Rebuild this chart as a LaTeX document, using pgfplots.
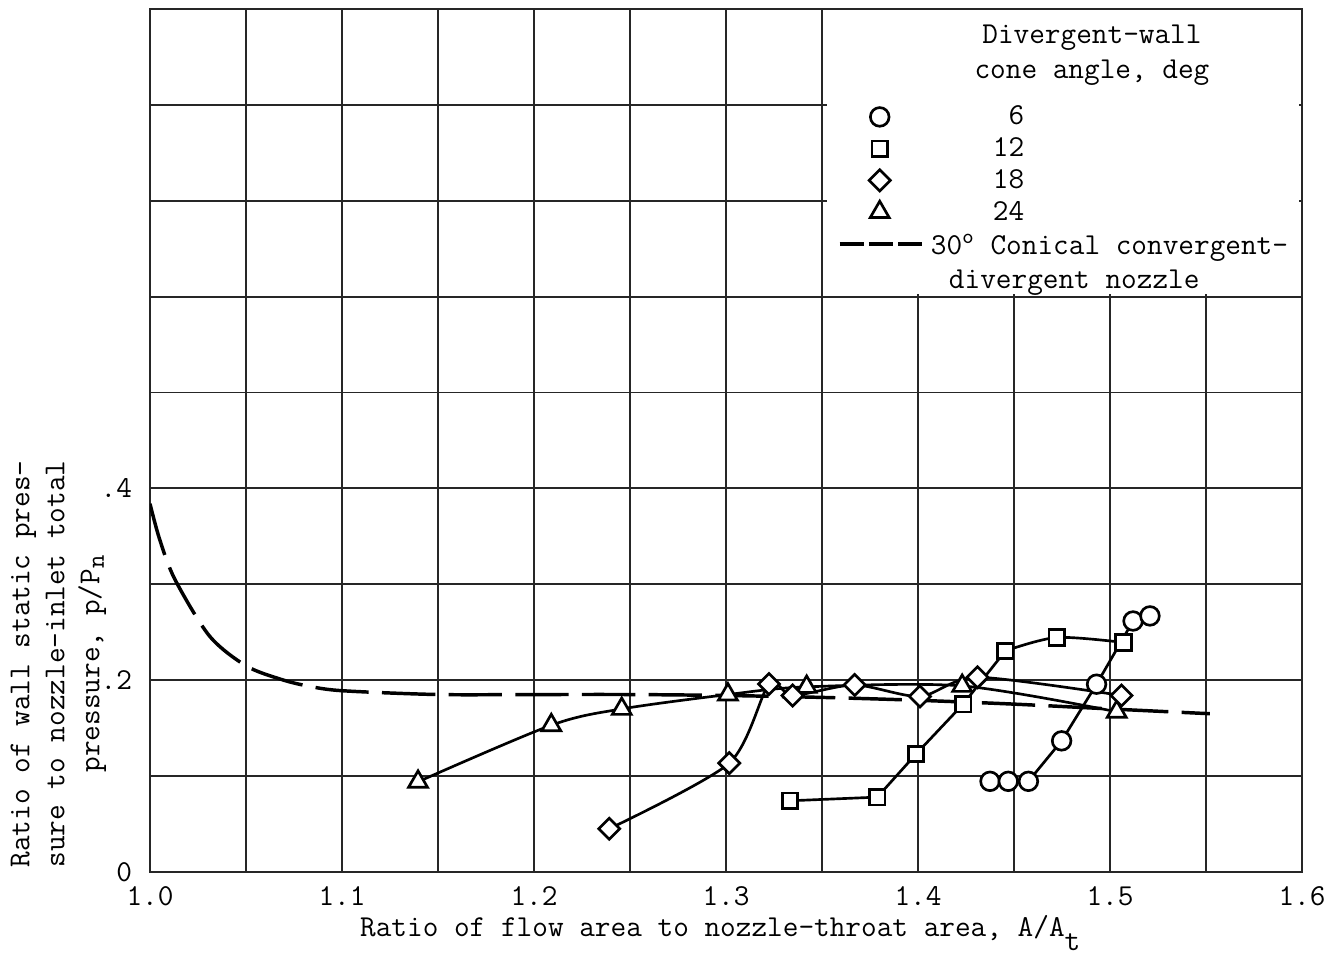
\documentclass[border=0pt]{standalone}
\usepackage{pgfplots}
\pgfplotsset{compat=1.18}
\newcommand\tf{\fontsize{11.4}{13.1}\selectfont\ttfamily}
\begin{document}
\begin{tikzpicture}[font=\tf]
\begin{axis}[
  scale only axis,
  width=432pt, height=323.6pt,
  xmin=1.0, xmax=1.6, ymin=0, ymax=0.9,
  xtick={1.0,1.1,1.2,1.3,1.4,1.5,1.6},
  xticklabels={1.0,1.1,1.2,1.3,1.4,1.5,1.6},
  minor xtick={1.05,1.15,1.25,1.35,1.45,1.55},
  ytick={0,0.2,0.4},
  yticklabels={0,.2,.4},
  minor ytick={0.1,0.3,0.5,0.6,0.7,0.8},
  grid=both,
  major grid style={line width=0.7pt, draw=black!85},
  minor grid style={line width=0.7pt, draw=black!85},
  tick style={draw=none},
  axis line style={line width=0.7pt, draw=black!85},
  tick label style={font=\tf},
  xticklabel style={yshift=-2pt},
  yticklabel style={xshift=-3.2pt},
  label style={font=\tf},
  xlabel={Ratio of flow area to nozzle-throat area, A/A\raisebox{-5pt}{t}},
  xlabel style={at={(rel axis cs:0.495,-0.0753)}, anchor=base},
  ylabel={Ratio of wall static pres-\\sure to nozzle-inlet total\\pressure, p/P\raisebox{-0.35ex}{\fontsize{9.5}{9.5}\selectfont n}},
  ylabel style={at={(rel axis cs:-0.0795,0.241)}, anchor=center, align=center},
  legend style={at={(axis cs:1.35828,0.80135)}, anchor=north west, draw=none, fill=none,
    inner sep=0pt, outer sep=0pt, row sep=1.9pt, column sep=1pt, font=\tf,
    nodes={inner sep=0pt, text height=8pt, text depth=2pt, anchor=west}},
  legend cell align=left,
]
% legend entries
\addlegendimage{only marks, mark=o, mark size=3.5pt, mark options={line width=1pt}}
\addlegendentry{\hspace*{23.25pt}\hphantom{1}6}
\addlegendimage{only marks, mark=square, mark size=2.9pt, mark options={line width=1pt}}
\addlegendentry{\hspace*{23.25pt}12}
\addlegendimage{only marks, mark=square, mark size=2.8pt, mark options={line width=1pt, rotate=45}}
\addlegendentry{\hspace*{23.25pt}18}
\addlegendimage{only marks, mark=triangle, mark size=4.1pt, mark options={line width=1pt}}
\addlegendentry{\hspace*{23.25pt}24}
\addlegendimage{legend image code/.code={\draw[line width=1.3pt, dash pattern=on 9pt off 2pt] (-6.5pt,0pt) -- (26.1pt,0pt);}}
\addlegendentry{\raisebox{-1pt}{30\textsuperscript{o} Conical convergent-}}
\addlegendimage{empty legend}
\addlegendentry{\raisebox{-2pt}{\hspace*{6.75pt}divergent nozzle}}

% white area behind the legend
\fill[white] (axis cs:1.3525,0.6025) rectangle (axis cs:1.5985,0.8985);
\node[align=center, font=\tf] at (axis cs:1.4906,0.852) {Divergent-wall\\cone angle, deg};

% 30 deg conical convergent-divergent nozzle
\addplot[forget plot, black, line width=1.3pt, dash pattern=on 20pt off 5pt, smooth, tension=0.5] coordinates {
(1.000,0.384) (1.005,0.347) (1.013,0.305) (1.031,0.246) (1.050,0.215) (1.068,0.201)
(1.082,0.194) (1.100,0.189) (1.150,0.185) (1.200,0.185) (1.250,0.185) (1.300,0.184)
(1.350,0.182) (1.400,0.179) (1.450,0.175) (1.500,0.170) (1.552,0.165)};

% 24 deg (triangles)
\addplot[forget plot, black, line width=1pt, smooth, tension=0.5, mark=triangle*, mark size=4.1pt,
  mark options={solid, fill=white, line width=1pt}] coordinates {
(1.1396,0.094) (1.209,0.153) (1.2457,0.170) (1.301,0.185) (1.342,0.193) (1.423,0.194) (1.5035,0.167)};

% 18 deg (diamonds)
\addplot[forget plot, black, line width=1pt, smooth, tension=0.45, mark=square*, mark size=2.8pt,
  mark options={solid, fill=white, line width=1pt, rotate=45}] coordinates {
(1.2392,0.045) (1.3017,0.1135) (1.3224,0.196) (1.3347,0.184) (1.367,0.195) (1.401,0.183) (1.431,0.203) (1.506,0.184)};

% 12 deg (squares)
\addplot[forget plot, black, line width=1pt, sharp plot, mark=square*, mark size=2.9pt,
  mark options={solid, fill=white, line width=1pt}] coordinates {
(1.3333,0.0742) (1.3788,0.078) (1.399,0.123) (1.4235,0.175) (1.4455,0.2305)};
\addplot[forget plot, black, line width=1pt, smooth, mark=square*, mark size=2.9pt,
  mark options={solid, fill=white, line width=1pt}] coordinates {
(1.4455,0.2305) (1.4722,0.2445) (1.507,0.2393)};

% 6 deg (circles)
\addplot[forget plot, black, line width=1pt, sharp plot, mark=*, mark size=3.5pt,
  mark options={solid, fill=white, line width=1pt}] coordinates {
(1.4375,0.0945) (1.447,0.0945) (1.4575,0.0945) (1.4748,0.1367) (1.493,0.1958) (1.512,0.2617) (1.5208,0.267)};

\coordinate (bl) at (axis cs:0.921875,-0.089583);
\coordinate (tr) at (axis cs:1.616667,0.909375);
\end{axis}
\pgfresetboundingbox
\path[use as bounding box] (bl) rectangle (tr);
\end{tikzpicture}
\end{document}
